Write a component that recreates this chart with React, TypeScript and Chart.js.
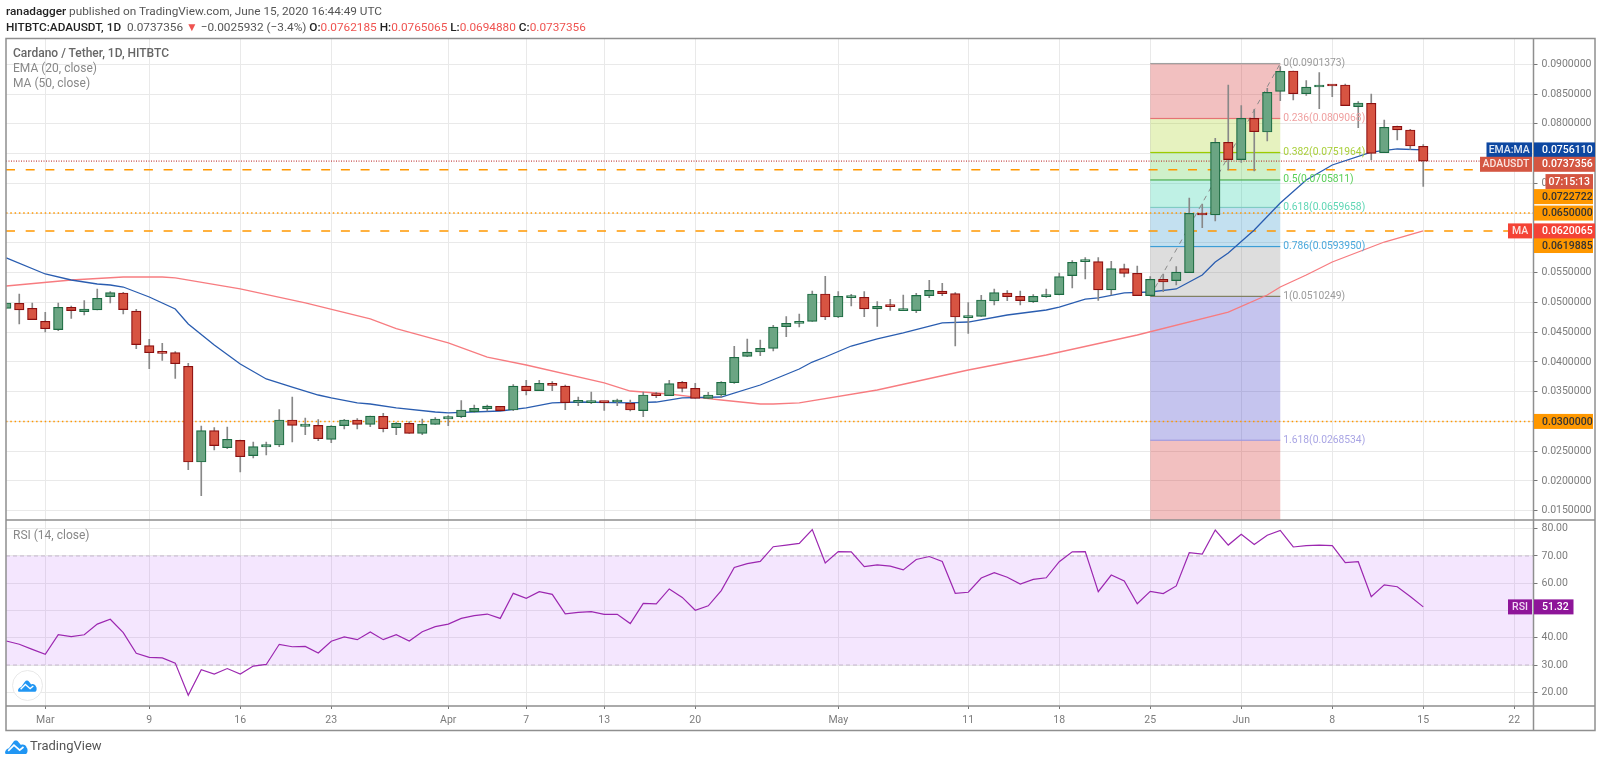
import { useEffect, useRef } from 'react';
import { Chart, registerables } from 'chart.js';

Chart.register(...registerables);

// days counted from Mar 1 2020, first candle is Feb 27
const FIRST_DAY = -3;
const tickDays = [0, 8, 15, 22, 31, 37, 43, 50, 61, 71, 78, 85, 92, 99, 106, 113];
const tickLabels = ['Mar', '9', '16', '23', 'Apr', '7', '13', '20', 'May', '11', '18', '25', 'Jun', '8', '15', '22'];
const priceTicks = [0.015, 0.02, 0.025, 0.03, 0.035, 0.04, 0.045, 0.05, 0.055, 0.06, 0.065, 0.07, 0.075, 0.08, 0.085, 0.09];
const rsiTicks = [20, 30, 40, 50, 60, 70, 80];

const opens = [
  0.049, 0.04984, 0.049, 0.04682, 0.04542, 0.04917, 0.04844, 0.04872, 0.05096, 0.05158,
  0.04855, 0.04273, 0.04155, 0.04155, 0.03926, 0.02318, 0.02845, 0.02559, 0.02682, 0.02425,
  0.0257, 0.02604, 0.03024, 0.02918, 0.02934, 0.02699, 0.02929, 0.03024, 0.02951, 0.03086,
  0.02895, 0.02968, 0.028, 0.02951, 0.03041, 0.0308, 0.03164, 0.03214, 0.03254, 0.03192,
  0.03595, 0.03517, 0.0364, 0.03595, 0.03321, 0.03315, 0.03338, 0.03326, 0.03304, 0.03181,
  0.03444, 0.03433, 0.03657, 0.03556, 0.03388, 0.03444, 0.03651, 0.04094, 0.04166, 0.04228,
  0.04592, 0.04648, 0.04682, 0.05141, 0.04754, 0.05079, 0.05085, 0.04889, 0.04934, 0.04861,
  0.04861, 0.05113, 0.05191, 0.05146, 0.04743, 0.04766, 0.05023, 0.05158, 0.05102, 0.05012,
  0.05096, 0.0513, 0.05449, 0.05684, 0.05684, 0.05208, 0.05566, 0.05488, 0.05113, 0.05387,
  0.05365, 0.05499, 0.06485, 0.06468, 0.07689, 0.07398, 0.08092, 0.07862, 0.08546, 0.08887,
  0.08506, 0.08618, 0.08652, 0.08652, 0.08288, 0.08344, 0.07515, 0.07958, 0.07896, 0.0762185,
];
const highs = [
  0.0499, 0.05141, 0.0499, 0.04833, 0.0499, 0.04939, 0.05029, 0.05225, 0.0518, 0.05169,
  0.04883, 0.04379, 0.04312, 0.04172, 0.03976, 0.02923, 0.02895, 0.02906, 0.02688, 0.02654,
  0.02654, 0.03198, 0.0341, 0.03058, 0.0303, 0.02929, 0.03035, 0.03046, 0.03091, 0.03136,
  0.02979, 0.02996, 0.03041, 0.03063, 0.03097, 0.03349, 0.03276, 0.03276, 0.03254, 0.03618,
  0.0369, 0.0369, 0.03668, 0.03612, 0.0341, 0.03494, 0.03338, 0.03377, 0.0336, 0.03494,
  0.03489, 0.0369, 0.03674, 0.0364, 0.03489, 0.03668, 0.04262, 0.04385, 0.04368, 0.04614,
  0.0476, 0.04805, 0.05191, 0.05438, 0.0518, 0.05135, 0.0518, 0.05012, 0.05051, 0.05124,
  0.05152, 0.0537, 0.0532, 0.05163, 0.04995, 0.05118, 0.05225, 0.05197, 0.05191, 0.0513,
  0.05225, 0.05494, 0.05701, 0.05751, 0.05751, 0.0569, 0.05645, 0.05611, 0.05432, 0.05477,
  0.056, 0.06754, 0.06653, 0.07756, 0.08652, 0.08305, 0.08243, 0.08596, 0.0896, 0.08887,
  0.08725, 0.08859, 0.08652, 0.08669, 0.08372, 0.08501, 0.08064, 0.07963, 0.07907, 0.0765065,
];
const lows = [
  0.049, 0.04637, 0.0471, 0.04502, 0.04525, 0.04732, 0.04788, 0.04872, 0.0499, 0.04805,
  0.04222, 0.03886, 0.04026, 0.03724, 0.0219, 0.01753, 0.0252, 0.02542, 0.0215, 0.02386,
  0.02436, 0.02576, 0.02654, 0.02778, 0.02677, 0.02643, 0.02873, 0.02873, 0.02912, 0.02822,
  0.02778, 0.028, 0.02778, 0.02951, 0.02929, 0.03063, 0.03153, 0.03175, 0.03175, 0.03181,
  0.03444, 0.03517, 0.03517, 0.03198, 0.03265, 0.03298, 0.03186, 0.03265, 0.03175, 0.0308,
  0.03399, 0.03433, 0.03494, 0.03388, 0.03382, 0.03405, 0.0364, 0.04088, 0.04105, 0.04183,
  0.04424, 0.04586, 0.04682, 0.0471, 0.04743, 0.04939, 0.0476, 0.04598, 0.04866, 0.04861,
  0.04827, 0.05079, 0.05113, 0.04267, 0.0448, 0.04766, 0.04956, 0.05029, 0.04956, 0.04995,
  0.05085, 0.05124, 0.05242, 0.05393, 0.05034, 0.05124, 0.05426, 0.05113, 0.05113, 0.0518,
  0.05292, 0.05499, 0.06255, 0.06367, 0.07224, 0.07353, 0.07207, 0.07711, 0.08389, 0.084,
  0.08478, 0.08254, 0.08456, 0.08305, 0.07935, 0.07392, 0.07515, 0.07728, 0.07571, 0.069488,
];
const closes = [
  0.0499, 0.04872, 0.0471, 0.04558, 0.04917, 0.04861, 0.04889, 0.05068, 0.05163, 0.04878,
  0.0429, 0.04155, 0.04144, 0.0397, 0.02318, 0.02845, 0.02593, 0.02699, 0.02408, 0.02576,
  0.0261, 0.03024, 0.02934, 0.02957, 0.0271, 0.02923, 0.03024, 0.02951, 0.03091, 0.02878,
  0.02968, 0.028, 0.02951, 0.03041, 0.0308, 0.03192, 0.0322, 0.03259, 0.03181, 0.03595,
  0.03517, 0.0364, 0.03606, 0.03315, 0.03343, 0.03343, 0.03315, 0.03338, 0.03192, 0.03444,
  0.03433, 0.03634, 0.03556, 0.03388, 0.03444, 0.03657, 0.04077, 0.04166, 0.04228, 0.04586,
  0.04648, 0.04682, 0.05141, 0.04754, 0.05102, 0.0509, 0.04889, 0.04934, 0.04928, 0.04889,
  0.05118, 0.05202, 0.05146, 0.04754, 0.04771, 0.0504, 0.05163, 0.05096, 0.05029, 0.05102,
  0.05118, 0.05432, 0.05673, 0.0569, 0.05208, 0.05566, 0.05488, 0.05113, 0.05387, 0.05342,
  0.0551, 0.06496, 0.06468, 0.07689, 0.07398, 0.08092, 0.07868, 0.08529, 0.08882, 0.08506,
  0.08618, 0.08652, 0.08635, 0.08305, 0.0835, 0.07504, 0.07941, 0.07896, 0.07627, 0.0737356,
];

const emaDays = [-3, 0, 2, 4, 5, 6, 8, 10, 11, 13, 15, 17, 19, 21, 22, 24, 25, 27, 30, 31, 35, 37, 39, 41, 45, 47, 49, 52, 55, 58, 59, 60, 62, 64, 66, 69, 71, 74, 77, 78, 80, 81, 83, 85, 87, 89, 90, 91, 93, 95, 97, 99, 102, 104, 106];
const emaValues = [
  0.05746, 0.05477, 0.05376, 0.05309, 0.05292, 0.05258, 0.0509, 0.04889, 0.04637, 0.04284,
  0.03965, 0.03713, 0.03578, 0.03444, 0.03394, 0.0331, 0.03293, 0.03226, 0.03158, 0.03142,
  0.03175, 0.03226, 0.0331, 0.03326, 0.0331, 0.03326, 0.03394, 0.0341, 0.03612, 0.03881,
  0.03998, 0.04082, 0.04267, 0.04385, 0.04486, 0.04654, 0.0467, 0.04788, 0.04872, 0.04922,
  0.05056, 0.05074, 0.05158, 0.05174, 0.05225, 0.0546, 0.05678, 0.0583, 0.06216, 0.0667,
  0.07056, 0.07308, 0.07526, 0.07577, 0.075611,
];
const maDays = [-3, 2, 6, 9, 10, 15, 20, 25, 27, 31, 34, 37, 43, 45, 48, 50, 52, 55, 56, 58, 64, 71, 77, 84, 91, 94, 95, 97, 99, 103, 106];
const maValues = [
  0.05275, 0.05376, 0.05426, 0.05426, 0.0541, 0.05225, 0.0499, 0.04721, 0.04561, 0.04318,
  0.04082, 0.03948, 0.03646, 0.03511, 0.03461, 0.0341, 0.0336, 0.03293, 0.03293, 0.0331,
  0.03528, 0.03864, 0.04116, 0.04452, 0.04838, 0.05124, 0.05258, 0.0546, 0.05678, 0.06014, 0.0620065,
];
const rsiValues = [
  38.8, 37.6, 35.75, 33.9, 41.1, 40.4, 41.1, 45, 46.8, 41.9,
  34.3, 32.8, 32.6, 30.7, 18.9, 28.3, 26.7, 28.7, 26.7, 29.6,
  30.2, 37.6, 36.7, 36.8, 34.4, 38.7, 40.3, 39.3, 42.1, 39.3,
  41.1, 38.8, 42.2, 44.1, 45, 47.1, 48.1, 48.7, 47.1, 56.3,
  54.5, 56.9, 55.9, 48.8, 49.3, 49.6, 48.6, 48.6, 45.2, 52.6,
  52.4, 57.9, 54.8, 50.1, 51.7, 57.3, 65.8, 67.2, 68, 73.4,
  74, 74.6, 79.7, 67.4, 71.6, 71.5, 66.1, 66.7, 66.3, 64.9,
  68.7, 69.8, 68, 56.3, 56.7, 61.9, 63.9, 62.2, 59.7, 61.4,
  62, 67.9, 71.5, 71.6, 56.9, 63, 60.8, 52.5, 57, 56.2,
  59, 71.2, 70.7, 79.5, 74, 78, 74.2, 77.6, 79.4, 73.3,
  73.8, 74, 73.8, 67.6, 67.9, 55.1, 59.4, 58.7, 55.1, 51.32,
];

const fibLevels = ['0', '0.236', '0.382', '0.5', '0.618', '0.786', '1', '1.618'];
const fibPrices = [0.0901373, 0.0809068, 0.0751964, 0.0705811, 0.0659658, 0.059395, 0.0510249, 0.0268534];
const fibStartDay = 85;
const fibEndDay = 95;

const PRICE_MIN = 0.01344;
const PRICE_MAX = 0.09433;
const RSI_MIN = 14.96;
const RSI_MAX = 83.2;
const X_MIN = -3.02;
const X_MAX = 114.48;

const FONT = 'Roboto, sans-serif';
const GRID = '#e9e9e9';
const FRAME = '#8f8f8f';
const RIGHT_EDGE = 1595;

const fibFills = [
  'rgba(211,47,47,0.3)', 'rgba(156,204,0,0.25)', 'rgba(76,200,60,0.27)', 'rgba(0,200,150,0.25)',
  'rgba(33,140,200,0.27)', 'rgba(120,120,120,0.25)', 'rgba(63,60,200,0.3)', 'rgba(211,47,47,0.3)',
];
const fibLines = ['#a0a0a0', '#e57373', '#9ccc00', '#4caf50', '#80cbc4', '#3c9ed6', '#808060', '#a09be0'];
const fibTexts = ['#9a9a9a', '#ef9f9f', '#a9cf3a', '#58cf58', '#5fd6b4', '#4aa8dc', '#9a9a9a', '#a9a5e4'];

const flatLine = (value, color, dash, yAxisID = 'y') => ({
  type: 'line',
  data: [{ x: X_MIN, y: value }, { x: X_MAX, y: value }],
  borderColor: color,
  borderWidth: 1.5,
  borderDash: dash,
  pointRadius: 0,
  yAxisID,
  order: 6,
});

function box(ctx, x0, x1, cy, h, bg, text, fg, align = 'center') {
  ctx.fillStyle = bg;
  ctx.fillRect(x0, cy - h / 2, x1 - x0, h);
  ctx.fillStyle = fg;
  ctx.font = `500 10.5px ${FONT}`;
  ctx.textAlign = align;
  ctx.textBaseline = 'middle';
  ctx.fillText(text, align === 'center' ? (x0 + x1) / 2 : x0 + 8, cy + 0.5);
}

const overlay = {
  id: 'overlay',
  beforeDatasetsDraw(chart) {
    const { ctx, scales, chartArea } = chart;
    const { x, y, rsi } = scales;
    const left = x.getPixelForValue(fibStartDay);
    const right = x.getPixelForValue(fibEndDay);
    ctx.save();
    // fib bands, last one runs down to the pane edge
    fibPrices.forEach((price, i) => {
      const top = y.getPixelForValue(price);
      const bottom = i < fibPrices.length - 1 ? y.getPixelForValue(fibPrices[i + 1]) : y.bottom;
      ctx.fillStyle = fibFills[i];
      ctx.fillRect(left, top, right - left, bottom - top);
      ctx.fillStyle = fibLines[i];
      ctx.fillRect(left, top - 0.5, right - left, 1.2);
    });
    // rsi band
    const top = rsi.getPixelForValue(70);
    const bottom = rsi.getPixelForValue(30);
    ctx.fillStyle = 'rgba(186,99,249,0.16)';
    ctx.fillRect(chartArea.left, top, chartArea.right - chartArea.left, bottom - top);
    ctx.restore();
  },
  afterDatasetsDraw(chart) {
    const { ctx, scales } = chart;
    const { x, y } = scales;
    const right = x.getPixelForValue(fibEndDay);
    ctx.save();
    ctx.font = `10.3px ${FONT}`;
    ctx.textAlign = 'left';
    ctx.textBaseline = 'middle';
    fibPrices.forEach((price, i) => {
      ctx.fillStyle = fibTexts[i];
      ctx.fillText(`${fibLevels[i]}(${price.toFixed(7)})`, right + 3, y.getPixelForValue(price));
    });
    ctx.restore();
  },
  afterDraw(chart) {
    const { ctx, scales, chartArea } = chart;
    const { y, rsi } = scales;
    const ax = chartArea.right;
    const end = RIGHT_EDGE;
    ctx.save();
    ctx.strokeStyle = FRAME;
    ctx.lineWidth = 1.5;
    ctx.strokeRect(chartArea.left, chartArea.top, end - chartArea.left, 730.5 - chartArea.top);
    ctx.beginPath();
    ctx.moveTo(ax, chartArea.top);
    ctx.lineTo(ax, 730.5);
    ctx.moveTo(chartArea.left, y.bottom);
    ctx.lineTo(end, y.bottom);
    ctx.moveTo(chartArea.left, chartArea.bottom);
    ctx.lineTo(end, chartArea.bottom);
    ctx.stroke();

    // labels on the price axis, the crowded ones get pushed off their price
    const tagY = (price, shift = 0) => y.getPixelForValue(price) + shift;
    const H = 15;
    box(ctx, ax - 47, ax - 1.5, tagY(0.075611), H, '#0d47a1', 'EMA:MA', '#dfe8f5');
    box(ctx, ax + 0.5, end, tagY(0.075611), H, '#0d47a1', '0.0756110', '#fff', 'left');
    box(ctx, ax - 53.5, ax - 1.5, tagY(0.0737356, 3.2), H, '#d45642', 'ADAUSDT', '#fbe4e0');
    box(ctx, ax + 0.5, end, tagY(0.0737356, 3.2), H, '#d45642', '0.0737356', '#fff', 'left');
    box(ctx, ax + 12, end - 2, tagY(0.0737356, 20.5), H, '#d45642', '07:15:13', '#fff');
    box(ctx, ax + 0.5, end - 2, tagY(0.0722722, 26.8), H, '#ff9800', '0.0722722', '#333', 'left');
    box(ctx, ax + 0.5, end - 2, tagY(0.065), H, '#ff9800', '0.0650000', '#333', 'left');
    box(ctx, ax - 25.5, ax - 1.5, tagY(0.0620065), H, '#f44336', 'MA', '#fbe4e0');
    box(ctx, ax + 0.5, end - 2, tagY(0.0619885, 14.5), H, '#ff9800', '0.0619885', '#333', 'left');
    box(ctx, ax + 0.5, end, tagY(0.0620065), H, '#f44336', '0.0620065', '#fff', 'left');
    box(ctx, ax + 0.5, end - 2, tagY(0.03), H, '#ff9800', '0.0300000', '#333', 'left');
    // rsi
    const lastRsi = rsiValues[rsiValues.length - 1];
    box(ctx, ax - 25.5, ax - 1.5, rsi.getPixelForValue(lastRsi), H, '#8e1599', 'RSI', '#f0d8f3');
    box(ctx, ax + 0.5, ax + 40, rsi.getPixelForValue(lastRsi), H, '#8e1599', lastRsi.toFixed(2), '#fff', 'left');
    ctx.restore();
  },
};

function TvCloud({ width, height }) {
  return (
    <svg width={width} height={height} viewBox="0 0 36 22">
      <path
        d="M0 20 C0 16 3 14 6 13 L13 3 C15 0 19 0 21 3 L25 8 C28 6 33 8 34 12 C36 14 36 20 33 22 L3 22 C1 22 0 21 0 20 Z"
        fill="#2196f3"
      />
      <path d="M5 17 L14 8 L23 16 L29 11" stroke="#fff" strokeWidth="2.6" fill="none" />
    </svg>
  );
}

const abs = (left, top, extra = {}) => ({ position: 'absolute', left, top, whiteSpace: 'nowrap', ...extra }) as const;

export default function App() {
  const canvasRef = useRef(null);
  const chartRef = useRef(null);

  useEffect(() => {
    if (chartRef.current) chartRef.current.destroy();

    const candles = opens.map((o, i) => ({ x: i + FIRST_DAY, open: o, high: highs[i], low: lows[i], close: closes[i] }));
    const up = candles.map(c => c.close >= c.open);

    chartRef.current = new Chart(canvasRef.current, {
      type: 'bar',
      data: {
        datasets: [
          {
            data: candles.map(c => ({ x: c.x, y: [c.open, c.close] })),
            backgroundColor: up.map(u => (u ? '#6ba583' : '#d75442')),
            borderColor: up.map(u => (u ? '#1c6b42' : '#8b0f0f')),
            borderWidth: 1.2,
            borderSkipped: false,
            barThickness: 9.5,
            minBarLength: 2,
            grouped: false,
            yAxisID: 'y',
            order: 1,
          },
          {
            data: candles.map(c => ({ x: c.x, y: [c.low, c.high] })),
            backgroundColor: '#888888',
            borderWidth: 0,
            barThickness: 1,
            grouped: false,
            yAxisID: 'y',
            order: 2,
          },
          {
            type: 'line',
            data: emaDays.map((d, i) => ({ x: d, y: emaValues[i] })),
            borderColor: '#2a5db0',
            borderWidth: 1.3,
            pointRadius: 0,
            yAxisID: 'y',
            order: 3,
          },
          {
            type: 'line',
            data: maDays.map((d, i) => ({ x: d, y: maValues[i] })),
            borderColor: '#f77c80',
            borderWidth: 1.3,
            pointRadius: 0,
            yAxisID: 'y',
            order: 4,
          },
          {
            type: 'line',
            data: [{ x: fibStartDay, y: fibPrices[6] }, { x: fibEndDay, y: fibPrices[0] }],
            borderColor: '#8a8a8a',
            borderWidth: 1,
            borderDash: [5, 5],
            pointRadius: 0,
            yAxisID: 'y',
            order: 5,
          },
          flatLine(0.0722722, '#ff9800', [9, 10.7]),
          flatLine(0.0619885, '#ff9800', [9, 10.7]),
          flatLine(0.065, '#ff9800', [1.5, 2.8]),
          flatLine(0.03, '#ff9800', [1.5, 2.8]),
          { ...flatLine(0.0737356, '#b71c1c', [1, 1.5]), borderWidth: 1 },
          { ...flatLine(70, '#c4b6cc', [4, 3], 'rsi'), borderWidth: 1 },
          { ...flatLine(30, '#c4b6cc', [4, 3], 'rsi'), borderWidth: 1 },
          {
            type: 'line',
            data: rsiValues.map((v, i) => ({ x: i + FIRST_DAY, y: v })),
            borderColor: '#9c27b0',
            borderWidth: 1.2,
            pointRadius: 0,
            yAxisID: 'rsi',
            order: 0,
          },
        ],
      },
      options: {
        responsive: false,
        animation: false,
        events: [],
        layout: { padding: { left: 6, top: 38.5, right: 5, bottom: 33 } },
        scales: {
          x: {
            type: 'linear',
            offset: false,
            min: X_MIN,
            max: X_MAX,
            afterBuildTicks: scale => { scale.ticks = tickDays.map(value => ({ value })); },
            afterFit: scale => { scale.height = 24; },
            grid: { offset: false, color: GRID, tickColor: '#777', tickLength: 3, lineWidth: 1 },
            border: { display: false },
            ticks: {
              autoSkip: false,
              maxRotation: 0,
              padding: 5,
              color: '#7c7c7c',
              font: { size: 10.5, family: FONT },
              callback: value => tickLabels[tickDays.indexOf(value)],
            },
          },
          y: {
            type: 'linear',
            position: 'right',
            stack: 'panes',
            stackWeight: 481.5,
            min: PRICE_MIN,
            max: PRICE_MAX,
            afterBuildTicks: scale => { scale.ticks = priceTicks.map(value => ({ value })); },
            afterFit: scale => { scale.width = 61.5; },
            grid: { color: GRID, tickColor: '#777', tickLength: 4 },
            border: { display: false },
            ticks: {
              padding: 4,
              color: '#7c7c7c',
              font: { size: 10.5, family: FONT },
              callback: value => value.toFixed(7),
            },
          },
          rsi: {
            type: 'linear',
            position: 'right',
            stack: 'panes',
            stackWeight: 186,
            min: RSI_MIN,
            max: RSI_MAX,
            afterBuildTicks: scale => { scale.ticks = rsiTicks.map(value => ({ value })); },
            afterFit: scale => { scale.width = 61.5; },
            grid: { color: GRID, tickColor: '#777', tickLength: 4 },
            border: { display: false },
            ticks: {
              padding: 4,
              color: '#7c7c7c',
              font: { size: 10.5, family: FONT },
              callback: value => value.toFixed(2),
            },
          },
        },
        plugins: {
          legend: { display: false },
          tooltip: { enabled: false },
        },
      },
      plugins: [overlay],
    });

    return () => { if (chartRef.current) chartRef.current.destroy(); };
  }, []);

  const red = { color: '#ef5350' };
  const bold = { fontWeight: 500, color: '#222' };

  return (
    <div style={abs(0, 0, { width: 1600, height: 763, background: '#fff', fontFamily: FONT, color: '#555', overflow: 'hidden' })}>
      <canvas ref={canvasRef} width={1600} height={763} style={{ position: 'absolute', left: 0, top: 0 }} />
      <div style={abs(6, 4, { fontSize: 11.8 })}>
        <span style={bold}>ranadagger</span> published on TradingView.com, June 15, 2020 16:44:49 UTC
      </div>
      <div style={abs(6, 20, { fontSize: 11.8 })}>
        <span style={bold}>HITBTC:ADAUSDT, 1D</span>&nbsp; 0.0737356 <span style={red}>▼</span> −0.0025932 (−3.4%){' '}
        <span style={bold}>O:</span><span style={red}>0.0762185</span>{' '}
        <span style={bold}>H:</span><span style={red}>0.0765065</span>{' '}
        <span style={bold}>L:</span><span style={red}>0.0694880</span>{' '}
        <span style={bold}>C:</span><span style={red}>0.0737356</span>
      </div>
      <div style={abs(13, 46, { fontSize: 12, fontWeight: 500, color: '#666' })}>Cardano / Tether, 1D, HITBTC</div>
      <div style={abs(13, 61, { fontSize: 12, color: '#888' })}>EMA (20, close)</div>
      <div style={abs(13, 76, { fontSize: 12, color: '#888' })}>MA (50, close)</div>
      <div style={abs(13, 528, { fontSize: 12, color: '#888' })}>RSI (14, close)</div>
      <div style={abs(12, 670, { width: 29, height: 29, borderRadius: '50%', background: '#fff', border: '1px solid #e8e8e8', display: 'flex', alignItems: 'center', justifyContent: 'center' })}>
        <TvCloud width={19} height={12} />
      </div>
      <div style={abs(5, 739)}>
        <TvCloud width={23} height={14} />
      </div>
      <div style={abs(30, 738, { fontSize: 13, color: '#555' })}>TradingView</div>
    </div>
  );
}
